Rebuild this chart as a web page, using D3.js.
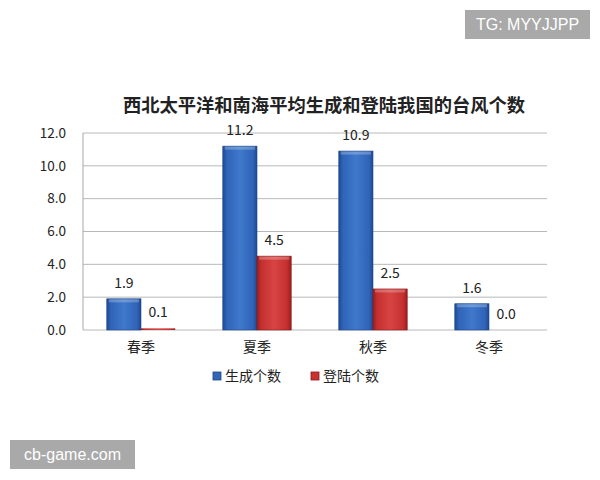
<!DOCTYPE html>
<html><head><meta charset="utf-8">
<script src="https://cdn.jsdelivr.net/npm/d3@7"></script>
<style>body{margin:0;background:#fff;}svg{display:block;}</style>
</head><body>
<svg id="c" width="600" height="480"></svg>
<script>
const categories = ["春季", "夏季", "秋季", "冬季"];
const seriesNames = ["生成个数", "登陆个数"];
const generated = [1.9, 11.2, 10.9, 1.6];
const landed = [0.1, 4.5, 2.5, 0.0];
const yTicks = [0, 2, 4, 6, 8, 10, 12];
const title = "西北太平洋和南海平均生成和登陆我国的台风个数";

const svg = d3.select("#c");
const font = "'Noto Sans CJK SC', 'DejaVu Sans', sans-serif";
const m = {l: 83, r: 547, t: 133, b: 330};
const x = d3.scaleBand().domain(categories).range([m.l, m.r]).paddingInner(0.41).paddingOuter(0.205);
const xs = d3.scaleBand().domain(seriesNames).range([0, x.bandwidth()]);
const y = d3.scaleLinear().domain([0, 12]).range([m.b, m.t]);

const defs = svg.append("defs");
function grad(id, dark, mid, light) {
  const g = defs.append("linearGradient").attr("id", id).attr("x1", 0).attr("x2", 1).attr("y1", 0).attr("y2", 0);
  g.append("stop").attr("offset", "0%").attr("stop-color", dark);
  g.append("stop").attr("offset", "12%").attr("stop-color", mid);
  g.append("stop").attr("offset", "50%").attr("stop-color", light);
  g.append("stop").attr("offset", "88%").attr("stop-color", mid);
  g.append("stop").attr("offset", "100%").attr("stop-color", dark);
}
grad("gb", "#1d4a90", "#2f64b8", "#3f78cc");
grad("gr", "#9c1c1c", "#c42f2f", "#d84444");
const colors = {"生成个数": "url(#gb)", "登陆个数": "url(#gr)"};
const solid = {"生成个数": "#3566b8", "登陆个数": "#c83232"};
const edge = {"生成个数": "#1e4686", "登陆个数": "#8e1a1a"};

// gridlines
svg.append("g").selectAll("line").data(yTicks).join("line")
  .attr("x1", m.l).attr("x2", m.r).attr("y1", d => y(d)).attr("y2", d => y(d))
  .attr("stroke", "#b8b8b8").attr("stroke-width", 1);
svg.append("line").attr("x1", m.l).attr("x2", m.l).attr("y1", m.t).attr("y2", m.b)
  .attr("stroke", "#a8a8a8");

// y axis labels
const yAxis = d3.axisLeft(y).tickValues(yTicks).tickFormat(d3.format(".1f")).tickSize(0).tickPadding(17);
const ya = svg.append("g").attr("transform", `translate(${m.l},0)`).call(yAxis);
ya.select(".domain").remove();
ya.selectAll("text").attr("font-family", font).attr("font-size", 13.5).attr("fill", "#222");

// x axis labels
const xAxis = d3.axisBottom(x).tickSize(0).tickPadding(12);
const xa = svg.append("g").attr("transform", `translate(0,${m.b})`).call(xAxis);
xa.select(".domain").remove();
xa.selectAll("text").attr("font-family", font).attr("font-size", 14).attr("fill", "#222");

// bars
const rows = categories.map((c, i) => ({c, vals: [{s: seriesNames[0], v: generated[i]}, {s: seriesNames[1], v: landed[i]}]}));
const grp = svg.append("g").selectAll("g").data(rows).join("g")
  .attr("transform", d => `translate(${x(d.c)},0)`);
grp.selectAll("rect.bar").data(d => d.vals).join("rect").attr("class", "bar")
  .attr("x", d => xs(d.s)).attr("width", xs.bandwidth())
  .attr("y", d => y(d.v)).attr("height", d => Math.max(y(0) - y(d.v), d.v > 0 ? 1.5 : 0))
  .attr("fill", d => colors[d.s])
  .attr("stroke", d => (y(0) - y(d.v) > 6 ? edge[d.s] : "none")).attr("stroke-width", 0.6);
// top bevel
grp.selectAll("rect.top").data(d => d.vals.filter(v => y(0) - y(v.v) > 6)).join("rect").attr("class", "top")
  .attr("x", d => xs(d.s) + 2).attr("width", xs.bandwidth() - 4)
  .attr("y", d => y(d.v) + 0.5).attr("height", 3)
  .attr("fill", "#fff").attr("opacity", 0.25);
// labels
grp.selectAll("text").data(d => d.vals).join("text")
  .attr("x", d => xs(d.s) + xs.bandwidth() / 2)
  .attr("y", d => y(d.v) - 11)
  .attr("text-anchor", "middle")
  .attr("font-family", font).attr("font-size", 14).attr("fill", "#222")
  .text(d => d3.format(".1f")(d.v));

// title
svg.append("text").attr("x", 324).attr("y", 112).attr("text-anchor", "middle")
  .attr("font-family", font).attr("font-size", 18.3).attr("font-weight", "bold").attr("fill", "#222")
  .text(title);

// legend
const lg = svg.append("g");
const lx = [213, 311];
seriesNames.forEach((s, i) => {
  lg.append("rect").attr("x", lx[i]).attr("y", 372).attr("width", 8).attr("height", 8)
    .attr("fill", solid[s]).attr("stroke", edge[s]).attr("stroke-width", 0.8);
  lg.append("text").attr("x", lx[i] + 12).attr("y", 381).attr("font-family", font)
    .attr("font-size", 14).attr("fill", "#222").text(s);
});

// watermarks
svg.append("rect").attr("x", 465).attr("y", 10).attr("width", 125).attr("height", 29).attr("fill", "#a9a9a9");
svg.append("text").attr("x", 527.5).attr("y", 30).attr("text-anchor", "middle").attr("font-family", "'Liberation Sans', Arial, sans-serif")
  .attr("font-size", 16).attr("fill", "#fff").text("TG: MYYJJPP");
svg.append("rect").attr("x", 10).attr("y", 440).attr("width", 125).attr("height", 29).attr("fill", "#a9a9a9");
svg.append("text").attr("x", 72.5).attr("y", 460).attr("text-anchor", "middle").attr("font-family", "'Liberation Sans', Arial, sans-serif")
  .attr("font-size", 16).attr("fill", "#fff").text("cb-game.com");
</script>
</body></html>
